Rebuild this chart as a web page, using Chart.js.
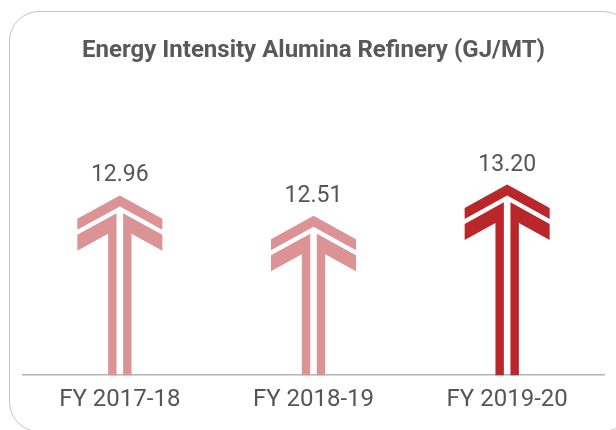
<!DOCTYPE html>
<html>
<head>
<meta charset="utf-8">
<script src="https://cdn.jsdelivr.net/npm/chart.js@4"></script>
<style>
  html, body { margin: 0; padding: 0; width: 616px; height: 430px; overflow: hidden; background: #fff; }
  #frame { position: absolute; left: 9px; top: 11px; width: 624px; height: 421px; border: 1.5px solid #c4c4c4; border-radius: 30px; box-sizing: border-box; }
  #wrap { position: absolute; left: 0; top: 0; width: 616px; height: 430px; }
</style>
</head>
<body>
<div id="frame"></div>
<div id="wrap"><canvas id="c" width="616" height="430"></canvas></div>
<script>
const categories = ['FY 2017-18', 'FY 2018-19', 'FY 2019-20'];
const intensity = [12.96, 12.51, 13.20];
const titleText = 'Energy Intensity Alumina Refinery (GJ/MT)';
const arrowColors = ['#dc9395', '#dc9395', '#b9272a'];

const arrowPlugin = {
  id: 'arrows',
  afterDatasetsDraw(chart) {
    const ctx = chart.ctx;
    const meta = chart.getDatasetMeta(0);
    const ds = chart.data.datasets[0];
    const yScale = chart.scales.y;
    const bottom = yScale.getPixelForValue(yScale.min);
    meta.data.forEach((bar, i) => {
      const cx = bar.x, ay = bar.y, base = bottom;
      const hw = 42.5, s = 0.55, t1 = 11, g = 5, t2 = 16, gh = 3.3, sw = 8.4;
      const y0 = t1 + g;
      ctx.save();
      ctx.fillStyle = arrowColors[i];
      // first chevron
      ctx.beginPath();
      ctx.moveTo(cx, ay);
      ctx.lineTo(cx + hw, ay + s * hw);
      ctx.lineTo(cx + hw, ay + s * hw + t1);
      ctx.lineTo(cx, ay + t1);
      ctx.lineTo(cx - hw, ay + s * hw + t1);
      ctx.lineTo(cx - hw, ay + s * hw);
      ctx.closePath();
      ctx.fill();
      // second chevron halves joined with stems
      [1, -1].forEach(d => {
        ctx.beginPath();
        ctx.moveTo(cx + d * gh, ay + y0 + s * gh);
        ctx.lineTo(cx + d * hw, ay + y0 + s * hw);
        ctx.lineTo(cx + d * hw, ay + y0 + s * hw + t2);
        ctx.lineTo(cx + d * (gh + sw), ay + y0 + t2 + s * (gh + sw));
        ctx.lineTo(cx + d * (gh + sw), base);
        ctx.lineTo(cx + d * gh, base);
        ctx.closePath();
        ctx.fill();
      });
      // value label
      ctx.fillStyle = '#555555';
      ctx.font = '23px Roboto';
      ctx.textAlign = 'center';
      ctx.textBaseline = 'alphabetic';
      ctx.fillText(ds.data[i].toFixed(2), cx, ay - 14);
      ctx.restore();
    });
  }
};

new Chart(document.getElementById('c'), {
  type: 'bar',
  data: {
    labels: categories,
    datasets: [{
      data: intensity,
      backgroundColor: 'rgba(0,0,0,0)',
      borderWidth: 0
    }]
  },
  options: {
    responsive: false,
    animation: false,
    events: [],
    layout: { padding: { left: 23, right: 12, top: 0, bottom: 6 } },
    plugins: {
      legend: { display: false },
      tooltip: { enabled: false },
      title: {
        display: true,
        text: titleText,
        color: '#595959',
        font: { family: 'Roboto', size: 24, weight: 'bold' },
        padding: { top: 37, bottom: 96 }
      }
    },
    scales: {
      x: {
        grid: { display: false, drawTicks: false },
        border: { display: true, color: '#b3b3b3', width: 1.5 },
        ticks: { color: '#555555', font: { family: 'Roboto', size: 24 }, padding: 10 }
      },
      y: {
        display: false,
        min: 9,
        max: 13.7
      }
    }
  },
  plugins: [arrowPlugin]
});
</script>
</body>
</html>
